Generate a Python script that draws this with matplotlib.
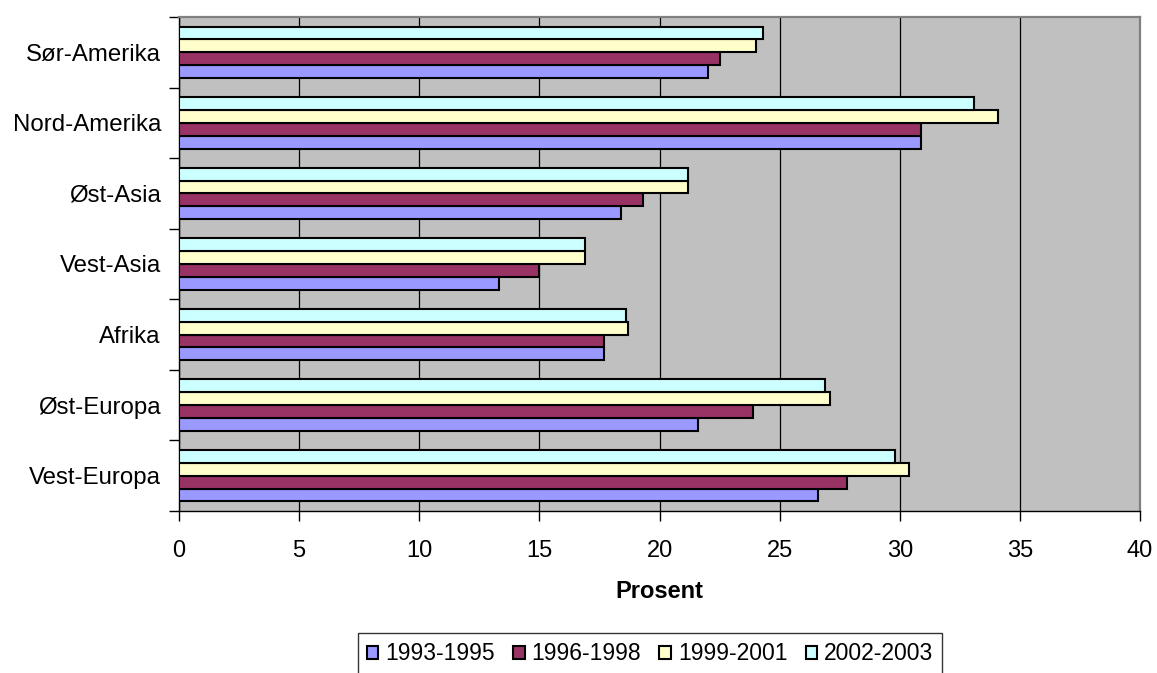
import matplotlib
matplotlib.use("Agg")
import matplotlib.pyplot as plt
import numpy as np
from matplotlib.patches import Patch

plt.rcParams['font.family'] = ['Liberation Sans', 'DejaVu Sans']

# Regions, listed bottom to top on the chart
regions = ["Vest-Europa", "Øst-Europa", "Afrika", "Vest-Asia",
           "Øst-Asia", "Nord-Amerika", "Sør-Amerika"]

periods = ["1993-1995", "1996-1998", "1999-2001", "2002-2003"]

p1993_1995 = [26.6, 21.6, 17.7, 13.3, 18.4, 30.9, 22.0]
p1996_1998 = [27.8, 23.9, 17.7, 15.0, 19.3, 30.9, 22.5]
p1999_2001 = [30.4, 27.1, 18.7, 16.9, 21.2, 34.1, 24.0]
p2002_2003 = [29.8, 26.9, 18.6, 16.9, 21.2, 33.1, 24.3]

xticks = [0, 5, 10, 15, 20, 25, 30, 35, 40]

series = [p1993_1995, p1996_1998, p1999_2001, p2002_2003]
colors = ["#9999FF", "#993366", "#FFFFCC", "#CCFFFF"]

fig = plt.figure(figsize=(11.57, 6.73), dpi=100)
ax = fig.add_axes([179 / 1157, 1 - 511 / 673, (1140 - 179) / 1157, (511 - 17) / 673])
ax.set_facecolor("#C0C0C0")

y = np.arange(len(regions))
h = 0.182
offsets = [-1.5 * h, -0.5 * h, 0.5 * h, 1.5 * h]
for vals, col, off, lab in zip(series, colors, offsets, periods):
    ax.barh(y + off, vals, height=h, color=col, edgecolor="black",
            linewidth=1.5, label=lab, zorder=3)

ax.set_xlim(0, 40)
ax.set_ylim(-0.5, len(regions) - 0.5)
ax.set_xticks(xticks)
ax.set_xticklabels([str(t) for t in xticks])
ax.xaxis.grid(True, color="black", linewidth=0.9, zorder=1)
ax.set_axisbelow(True)

# category labels centred in each band, ticks on band boundaries
ax.set_yticks(y)
ax.set_yticklabels(regions)
ax.tick_params(axis="y", which="major", length=0, pad=13, labelsize=17.3)
ax.set_yticks(np.arange(-0.5, len(regions), 1.0), minor=True)
ax.tick_params(axis="y", which="minor", length=7, width=1.0, color="black")
ax.tick_params(axis="x", length=7, width=1.0, pad=14, labelsize=17)

for side in ("left", "bottom"):
    ax.spines[side].set_color("black")
    ax.spines[side].set_linewidth(1.0)
for side in ("top", "right"):
    ax.spines[side].set_color("#808080")
    ax.spines[side].set_linewidth(1.6)

ax.set_xlabel("Prosent", fontsize=17, fontweight="bold", labelpad=13)

handles = [Patch(facecolor=c, edgecolor="black", linewidth=1.5, label=l)
           for c, l in zip(colors, periods)]
leg = fig.legend(handles=handles, loc="upper center",
                 bbox_to_anchor=(650 / 1157, 1 - 633 / 673), ncol=4,
                 fontsize=16.5, frameon=True, fancybox=False,
                 handlelength=0.5, handleheight=0.5, handletextpad=0.3,
                 columnspacing=0.8, borderpad=0.4, borderaxespad=0)
leg.get_frame().set_edgecolor("black")
leg.get_frame().set_linewidth(1.0)

fig.savefig("out.png", dpi=100)
